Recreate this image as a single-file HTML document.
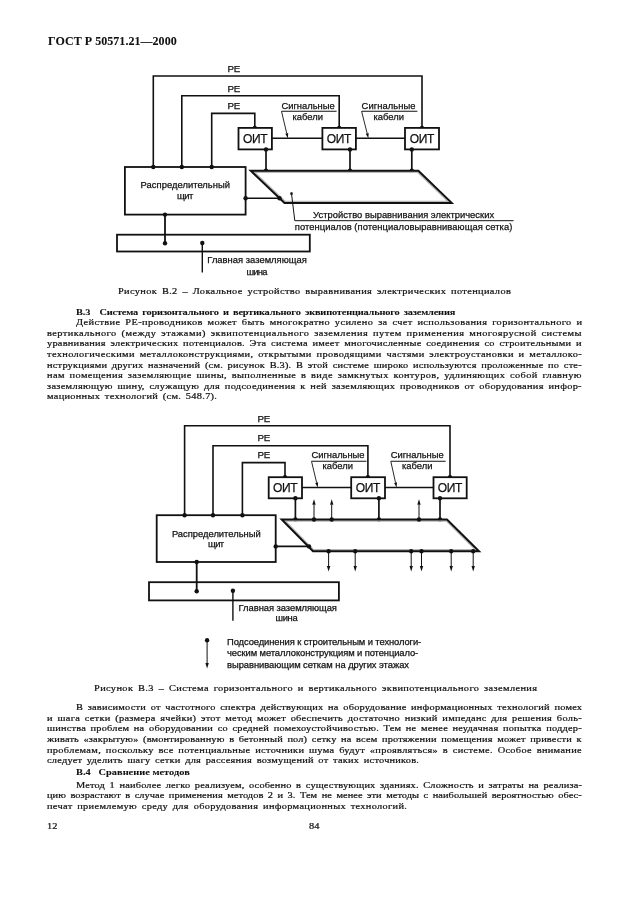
<!DOCTYPE html>
<html lang="ru"><head><meta charset="utf-8"><title>ГОСТ Р 50571.21—2000</title>
<style>
html,body{margin:0;padding:0;background:#fff;}
body{width:630px;height:913px;position:relative;overflow:hidden;font-family:"Liberation Serif",serif;color:#111;}
.t{position:absolute;white-space:pre;line-height:12px;height:12px;transform-origin:0 0;-webkit-text-stroke:0.22px #111;}
.b{font-weight:bold;-webkit-text-stroke:0.08px #111;}
svg{position:absolute;left:0;top:0;}
svg text{font-family:"Liberation Sans",sans-serif;fill:#111;stroke:#111;stroke-width:0.25px;}
#pg{position:absolute;left:0;top:0;width:630px;height:913px;will-change:transform;}
</style></head><body><div id="pg">
<div class="t b" style="left:48.10px;top:34.85px;font-size:12px;letter-spacing:0.041px;">ГОСТ Р 50571.21—2000</div>
<div class="t" style="left:118.30px;top:285.46px;font-size:9.0px;letter-spacing:0.307px;word-spacing:1.6px;transform:scaleX(1.15);">Рисунок В.2 – Локальное устройство выравнивания электрических потенциалов</div>
<div class="t b" style="left:76.20px;top:305.86px;font-size:9.0px;letter-spacing:-0.154px;word-spacing:1.6px;transform:scaleX(1.15);">В.3  Система горизонтального и вертикального эквипотенциального заземления</div>
<div class="t" style="left:75.70px;top:316.16px;font-size:9.0px;letter-spacing:0.333px;word-spacing:1.6px;transform:scaleX(1.15);">Действие РЕ-проводников может быть многократно усилено за счет использования горизонтального и</div>
<div class="t" style="left:47.10px;top:326.76px;font-size:9.0px;letter-spacing:0.388px;word-spacing:1.6px;transform:scaleX(1.15);">вертикального (между этажами) эквипотенциального заземления путем применения многоярусной системы</div>
<div class="t" style="left:47.10px;top:337.36px;font-size:9.0px;letter-spacing:0.217px;word-spacing:1.6px;transform:scaleX(1.15);">уравнивания электрических потенциалов. Эта система имеет многочисленные соединения со строительными и</div>
<div class="t" style="left:47.10px;top:347.96px;font-size:9.0px;letter-spacing:0.312px;word-spacing:1.6px;transform:scaleX(1.15);">технологическими металлоконструкциями, открытыми проводящими частями электроустановки и металлоко-</div>
<div class="t" style="left:47.10px;top:358.56px;font-size:9.0px;letter-spacing:0.172px;word-spacing:1.6px;transform:scaleX(1.15);">нструкциями других назначений (см. рисунок В.3). В этой системе широко используются проложенные по сте-</div>
<div class="t" style="left:47.10px;top:369.16px;font-size:9.0px;letter-spacing:0.327px;word-spacing:1.6px;transform:scaleX(1.15);">нам помещения заземляющие шины, выполненные в виде замкнутых контуров, удлиняющих собой главную</div>
<div class="t" style="left:47.10px;top:379.76px;font-size:9.0px;letter-spacing:0.261px;word-spacing:1.6px;transform:scaleX(1.15);">заземляющую шину, служащую для подсоединения к ней заземляющих проводников от оборудования инфор-</div>
<div class="t" style="left:47.10px;top:390.36px;font-size:9.0px;letter-spacing:0.250px;word-spacing:1.6px;transform:scaleX(1.15);">мационных технологий (см. 548.7).</div>
<div class="t" style="left:93.50px;top:681.96px;font-size:9.0px;letter-spacing:0.324px;word-spacing:1.6px;transform:scaleX(1.15);">Рисунок В.3 – Система горизонтального и вертикального эквипотенциального заземления</div>
<div class="t" style="left:75.70px;top:701.16px;font-size:9.0px;letter-spacing:0.186px;word-spacing:1.6px;transform:scaleX(1.15);">В зависимости от частотного спектра действующих на оборудование информационных технологий помех</div>
<div class="t" style="left:47.10px;top:711.76px;font-size:9.0px;letter-spacing:0.241px;word-spacing:1.6px;transform:scaleX(1.15);">и шага сетки (размера ячейки) этот метод может обеспечить достаточно низкий импеданс для решения боль-</div>
<div class="t" style="left:47.10px;top:722.36px;font-size:9.0px;letter-spacing:0.178px;word-spacing:1.6px;transform:scaleX(1.15);">шинства проблем на оборудовании со средней помехоустойчивостью. Тем не менее неудачная попытка поддер-</div>
<div class="t" style="left:47.10px;top:732.96px;font-size:9.0px;letter-spacing:0.133px;word-spacing:1.6px;transform:scaleX(1.15);">живать «закрытую» (вмонтированную в бетонный пол) сетку на всем протяжении помещения может привести к</div>
<div class="t" style="left:47.10px;top:743.56px;font-size:9.0px;letter-spacing:0.277px;word-spacing:1.6px;transform:scaleX(1.15);">проблемам, поскольку все потенциальные источники шума будут «проявляться» в системе. Особое внимание</div>
<div class="t" style="left:47.10px;top:754.16px;font-size:9.0px;letter-spacing:0.196px;word-spacing:1.6px;transform:scaleX(1.15);">следует уделить шагу сетки для рассеяния возмущений от таких источников.</div>
<div class="t b" style="left:76.20px;top:765.76px;font-size:9.0px;letter-spacing:0.020px;transform:scaleX(1.15);">В.4  Сравнение методов</div>
<div class="t" style="left:75.70px;top:778.56px;font-size:9.0px;letter-spacing:0.143px;word-spacing:1.6px;transform:scaleX(1.15);">Метод 1 наиболее легко реализуем, особенно в существующих зданиях. Сложность и затраты на реализа-</div>
<div class="t" style="left:47.10px;top:789.16px;font-size:9.0px;letter-spacing:0.047px;word-spacing:1.6px;transform:scaleX(1.15);">цию возрастают в случае применения методов 2 и 3. Тем не менее эти методы с наибольшей вероятностью обес-</div>
<div class="t" style="left:47.10px;top:799.76px;font-size:9.0px;letter-spacing:0.276px;word-spacing:1.6px;transform:scaleX(1.15);">печат приемлемую среду для оборудования информационных технологий.</div>
<div class="t" style="left:47.30px;top:819.86px;font-size:9.0px;letter-spacing:-0.043px;transform:scaleX(1.15);">12</div>
<div class="t" style="left:308.80px;top:819.86px;font-size:9.0px;letter-spacing:0.043px;transform:scaleX(1.15);">84</div>
<svg width="630" height="913" viewBox="0 0 630 913">
<path d="M153.3,167.0 V76.0 H422.0 V127.9" fill="none" stroke="#111" stroke-width="1.6" />
<circle cx="153.3" cy="167.0" r="2.2" fill="#111"/>
<circle cx="422.0" cy="127.9" r="2.2" fill="#111"/>
<path d="M181.8,167.0 V95.7 H339.2 V127.9" fill="none" stroke="#111" stroke-width="1.6" />
<circle cx="181.8" cy="167.0" r="2.2" fill="#111"/>
<circle cx="339.2" cy="127.9" r="2.2" fill="#111"/>
<path d="M211.7,167.0 V113.4 H254.8 V127.9" fill="none" stroke="#111" stroke-width="1.6" />
<circle cx="211.7" cy="167.0" r="2.2" fill="#111"/>
<circle cx="254.8" cy="127.9" r="2.2" fill="#111"/>
<text x="227.4" y="72.3" font-size="9.8" text-anchor="start" textLength="12.8" lengthAdjust="spacing">PE</text>
<text x="227.4" y="91.5" font-size="9.8" text-anchor="start" textLength="12.8" lengthAdjust="spacing">PE</text>
<text x="227.4" y="109.0" font-size="9.8" text-anchor="start" textLength="12.8" lengthAdjust="spacing">PE</text>
<rect x="238.5" y="127.9" width="33.39999999999998" height="21.5" fill="#fff" stroke="#111" stroke-width="1.8"/>
<text x="255.2" y="142.6" font-size="12" text-anchor="middle" textLength="24.6" lengthAdjust="spacing">ОИТ</text>
<rect x="322.4" y="127.9" width="33.5" height="21.5" fill="#fff" stroke="#111" stroke-width="1.8"/>
<text x="339.15" y="142.6" font-size="12" text-anchor="middle" textLength="24.6" lengthAdjust="spacing">ОИТ</text>
<rect x="405.0" y="127.9" width="34.0" height="21.5" fill="#fff" stroke="#111" stroke-width="1.8"/>
<text x="422.0" y="142.6" font-size="12" text-anchor="middle" textLength="24.6" lengthAdjust="spacing">ОИТ</text>
<path d="M271.9,138.3 H322.4 M355.9,138.3 H405.0" fill="none" stroke="#111" stroke-width="1.5" />
<path d="M266.0,149.4 V170.8" fill="none" stroke="#111" stroke-width="1.7" />
<circle cx="266.0" cy="149.4" r="2.2" fill="#111"/>
<circle cx="266.0" cy="170.8" r="2.2" fill="#111"/>
<path d="M350.0,149.4 V170.8" fill="none" stroke="#111" stroke-width="1.7" />
<circle cx="350.0" cy="149.4" r="2.2" fill="#111"/>
<circle cx="350.0" cy="170.8" r="2.2" fill="#111"/>
<path d="M411.8,149.4 V170.8" fill="none" stroke="#111" stroke-width="1.7" />
<circle cx="411.8" cy="149.4" r="2.2" fill="#111"/>
<circle cx="411.8" cy="170.8" r="2.2" fill="#111"/>
<clipPath id="g170"><path d="M250.8,170.8 H418.4 L451.7,202.9 H284.5 Z"/></clipPath>
<path d="M250.8,170.8 H418.4 L451.7,202.9 H284.5 Z" fill="none" stroke="#b8b8b8" stroke-width="4.4" clip-path="url(#g170)"/>
<path d="M250.8,170.8 H418.4 L451.7,202.9 H284.5 Z" fill="none" stroke="#111" stroke-width="2.0" stroke-linejoin="miter"/>
<text x="281.5" y="109.4" font-size="9.4" text-anchor="start" textLength="53.10000000000002" lengthAdjust="spacing">Сигнальные</text>
<text x="292.5" y="120.30000000000001" font-size="9.4" text-anchor="start" textLength="30.5" lengthAdjust="spacing">кабели</text>
<path d="M281.5,111.30000000000001 H336.6" fill="none" stroke="#111" stroke-width="1.1" />
<path d="M281.5,111.30000000000001 L286.75,133.43" stroke="#111" stroke-width="0.9" fill="none"/>
<path d="M287.9,138.3 L285.29,133.78 L288.21,133.09 Z" fill="#111"/>
<text x="361.6" y="109.4" font-size="9.4" text-anchor="start" textLength="53.799999999999955" lengthAdjust="spacing">Сигнальные</text>
<text x="373.5" y="120.30000000000001" font-size="9.4" text-anchor="start" textLength="30.5" lengthAdjust="spacing">кабели</text>
<path d="M361.6,111.30000000000001 H417.4" fill="none" stroke="#111" stroke-width="1.1" />
<path d="M361.6,111.30000000000001 L367.18,133.45" stroke="#111" stroke-width="0.9" fill="none"/>
<path d="M368.4,138.3 L365.72,133.82 L368.63,133.09 Z" fill="#111"/>
<rect x="124.9" y="167.0" width="120.69999999999999" height="47.599999999999994" fill="none" stroke="#111" stroke-width="1.8"/>
<text x="140.6" y="187.6" font-size="9.4" text-anchor="start" textLength="89.4" lengthAdjust="spacing">Распределительный</text>
<text x="177.0" y="198.6" font-size="9.4" text-anchor="start" textLength="16.400000000000006" lengthAdjust="spacing">щит</text>
<path d="M245.6,198.3 H279.5" fill="none" stroke="#111" stroke-width="1.6" />
<circle cx="245.6" cy="198.3" r="2.2" fill="#111"/>
<circle cx="279.5" cy="198.3" r="2.2" fill="#111"/>
<path d="M165.0,214.6 V243.3" fill="none" stroke="#111" stroke-width="1.8" />
<circle cx="165.0" cy="214.6" r="2.2" fill="#111"/>
<circle cx="165.0" cy="243.3" r="2.2" fill="#111"/>
<rect x="117.0" y="234.7" width="192.8" height="16.80000000000001" fill="none" stroke="#111" stroke-width="1.8"/>
<path d="M202.3,243.0 V272.6" fill="none" stroke="#111" stroke-width="1.4" />
<circle cx="202.3" cy="243.0" r="2.2" fill="#111"/>
<text x="207.3" y="263.4" font-size="9.4" text-anchor="start" textLength="99.5" lengthAdjust="spacing">Главная заземляющая</text>
<text x="246.4" y="274.6" font-size="9.4" text-anchor="start" textLength="20.99999999999997" lengthAdjust="spacing">шина</text>
<circle cx="291.5" cy="193.6" r="1.5" fill="#333"/>
<path d="M291.5,193.6 L294.8,220.7 H513.6" fill="none" stroke="#111" stroke-width="1.0" />
<text x="313.1" y="217.8" font-size="9.4" text-anchor="start" textLength="181.0" lengthAdjust="spacing">Устройство выравнивания электрических</text>
<text x="294.8" y="230.0" font-size="9.4" text-anchor="start" textLength="217.5" lengthAdjust="spacing">потенциалов (потенциаловыравнивающая сетка)</text>
<path d="M184.6,515.2 V425.8 H450.0 V477.2" fill="none" stroke="#111" stroke-width="1.6" />
<circle cx="184.6" cy="515.2" r="2.2" fill="#111"/>
<circle cx="450.0" cy="477.2" r="2.2" fill="#111"/>
<path d="M213.0,515.2 V445.7 H367.9 V477.2" fill="none" stroke="#111" stroke-width="1.6" />
<circle cx="213.0" cy="515.2" r="2.2" fill="#111"/>
<circle cx="367.9" cy="477.2" r="2.2" fill="#111"/>
<path d="M242.4,515.2 V462.6 H285.0 V477.2" fill="none" stroke="#111" stroke-width="1.6" />
<circle cx="242.4" cy="515.2" r="2.2" fill="#111"/>
<circle cx="285.0" cy="477.2" r="2.2" fill="#111"/>
<text x="257.5" y="422.0" font-size="9.8" text-anchor="start" textLength="12.8" lengthAdjust="spacing">PE</text>
<text x="257.5" y="440.8" font-size="9.8" text-anchor="start" textLength="12.8" lengthAdjust="spacing">PE</text>
<text x="257.5" y="457.8" font-size="9.8" text-anchor="start" textLength="12.8" lengthAdjust="spacing">PE</text>
<rect x="268.7" y="477.2" width="33.30000000000001" height="21.100000000000023" fill="#fff" stroke="#111" stroke-width="1.8"/>
<text x="285.35" y="491.7" font-size="12" text-anchor="middle" textLength="24.6" lengthAdjust="spacing">ОИТ</text>
<rect x="351.2" y="477.2" width="33.80000000000001" height="21.100000000000023" fill="#fff" stroke="#111" stroke-width="1.8"/>
<text x="368.1" y="491.7" font-size="12" text-anchor="middle" textLength="24.6" lengthAdjust="spacing">ОИТ</text>
<rect x="433.5" y="477.2" width="33.19999999999999" height="21.100000000000023" fill="#fff" stroke="#111" stroke-width="1.8"/>
<text x="450.1" y="491.7" font-size="12" text-anchor="middle" textLength="24.6" lengthAdjust="spacing">ОИТ</text>
<path d="M302.0,487.5 H351.2 M385.0,487.5 H433.5" fill="none" stroke="#111" stroke-width="1.5" />
<path d="M295.4,498.3 V519.5" fill="none" stroke="#111" stroke-width="1.7" />
<circle cx="295.4" cy="498.3" r="2.2" fill="#111"/>
<circle cx="295.4" cy="519.5" r="2.2" fill="#111"/>
<path d="M378.9,498.3 V519.5" fill="none" stroke="#111" stroke-width="1.7" />
<circle cx="378.9" cy="498.3" r="2.2" fill="#111"/>
<circle cx="378.9" cy="519.5" r="2.2" fill="#111"/>
<path d="M440.0,498.3 V519.5" fill="none" stroke="#111" stroke-width="1.7" />
<circle cx="440.0" cy="498.3" r="2.2" fill="#111"/>
<circle cx="440.0" cy="519.5" r="2.2" fill="#111"/>
<clipPath id="g519"><path d="M281.7,519.5 H447.0 L479.0,551.2 H313.0 Z"/></clipPath>
<path d="M281.7,519.5 H447.0 L479.0,551.2 H313.0 Z" fill="none" stroke="#b8b8b8" stroke-width="4.4" clip-path="url(#g519)"/>
<path d="M281.7,519.5 H447.0 L479.0,551.2 H313.0 Z" fill="none" stroke="#111" stroke-width="2.0" stroke-linejoin="miter"/>
<text x="311.5" y="458.0" font-size="9.4" text-anchor="start" textLength="53.0" lengthAdjust="spacing">Сигнальные</text>
<text x="322.5" y="469.1" font-size="9.4" text-anchor="start" textLength="30.5" lengthAdjust="spacing">кабели</text>
<path d="M311.5,461.3 H366.5" fill="none" stroke="#111" stroke-width="1.1" />
<path d="M311.5,461.3 L316.63,482.64" stroke="#111" stroke-width="0.9" fill="none"/>
<path d="M317.8,487.5 L315.17,482.99 L318.09,482.29 Z" fill="#111"/>
<text x="390.8" y="458.0" font-size="9.4" text-anchor="start" textLength="52.80000000000001" lengthAdjust="spacing">Сигнальные</text>
<text x="402.0" y="469.1" font-size="9.4" text-anchor="start" textLength="30.5" lengthAdjust="spacing">кабели</text>
<path d="M390.8,461.3 H445.6" fill="none" stroke="#111" stroke-width="1.1" />
<path d="M390.8,461.3 L395.52,482.62" stroke="#111" stroke-width="0.9" fill="none"/>
<path d="M396.6,487.5 L394.05,482.94 L396.98,482.29 Z" fill="#111"/>
<rect x="156.7" y="515.2" width="119.0" height="46.799999999999955" fill="none" stroke="#111" stroke-width="1.8"/>
<text x="171.9" y="537.0" font-size="9.4" text-anchor="start" textLength="88.79999999999998" lengthAdjust="spacing">Распределительный</text>
<text x="208.1" y="547.0" font-size="9.4" text-anchor="start" textLength="16.0" lengthAdjust="spacing">щит</text>
<path d="M275.7,546.4 H309.0" fill="none" stroke="#111" stroke-width="1.6" />
<circle cx="275.7" cy="546.4" r="2.2" fill="#111"/>
<circle cx="309.0" cy="546.4" r="2.2" fill="#111"/>
<path d="M196.7,562.0 V591.2" fill="none" stroke="#111" stroke-width="1.8" />
<circle cx="196.7" cy="562.0" r="2.2" fill="#111"/>
<circle cx="196.7" cy="591.2" r="2.2" fill="#111"/>
<rect x="149.0" y="582.2" width="189.89999999999998" height="18.199999999999932" fill="none" stroke="#111" stroke-width="1.8"/>
<path d="M232.9,590.8 V620.8" fill="none" stroke="#111" stroke-width="1.4" />
<circle cx="232.9" cy="590.8" r="2.2" fill="#111"/>
<text x="238.6" y="611.2" font-size="9.4" text-anchor="start" textLength="98.29999999999998" lengthAdjust="spacing">Главная заземляющая</text>
<text x="275.5" y="621.1" font-size="9.4" text-anchor="start" textLength="22.100000000000023" lengthAdjust="spacing">шина</text>
<circle cx="314.0" cy="519.5" r="2.2" fill="#111"/>
<path d="M314.0,519.5 L314.00,504.80" stroke="#111" stroke-width="1.0" fill="none"/>
<path d="M314.0,499.3 L315.70,504.80 L312.30,504.80 Z" fill="#111"/>
<circle cx="331.7" cy="519.5" r="2.2" fill="#111"/>
<path d="M331.7,519.5 L331.70,504.80" stroke="#111" stroke-width="1.0" fill="none"/>
<path d="M331.7,499.3 L333.40,504.80 L330.00,504.80 Z" fill="#111"/>
<circle cx="419.0" cy="519.5" r="2.2" fill="#111"/>
<path d="M419.0,519.5 L419.00,504.80" stroke="#111" stroke-width="1.0" fill="none"/>
<path d="M419.0,499.3 L420.70,504.80 L417.30,504.80 Z" fill="#111"/>
<circle cx="328.6" cy="551.2" r="2.2" fill="#111"/>
<path d="M328.6,551.2 L328.60,566.10" stroke="#111" stroke-width="1.0" fill="none"/>
<path d="M328.6,571.6 L326.90,566.10 L330.30,566.10 Z" fill="#111"/>
<circle cx="355.2" cy="551.2" r="2.2" fill="#111"/>
<path d="M355.2,551.2 L355.20,566.10" stroke="#111" stroke-width="1.0" fill="none"/>
<path d="M355.2,571.6 L353.50,566.10 L356.90,566.10 Z" fill="#111"/>
<circle cx="411.2" cy="551.2" r="2.2" fill="#111"/>
<path d="M411.2,551.2 L411.20,566.10" stroke="#111" stroke-width="1.0" fill="none"/>
<path d="M411.2,571.6 L409.50,566.10 L412.90,566.10 Z" fill="#111"/>
<circle cx="421.5" cy="551.2" r="2.2" fill="#111"/>
<path d="M421.5,551.2 L421.50,566.10" stroke="#111" stroke-width="1.0" fill="none"/>
<path d="M421.5,571.6 L419.80,566.10 L423.20,566.10 Z" fill="#111"/>
<circle cx="451.2" cy="551.2" r="2.2" fill="#111"/>
<path d="M451.2,551.2 L451.20,566.10" stroke="#111" stroke-width="1.0" fill="none"/>
<path d="M451.2,571.6 L449.50,566.10 L452.90,566.10 Z" fill="#111"/>
<circle cx="473.2" cy="551.2" r="2.2" fill="#111"/>
<path d="M473.2,551.2 L473.20,566.10" stroke="#111" stroke-width="1.0" fill="none"/>
<path d="M473.2,571.6 L471.50,566.10 L474.90,566.10 Z" fill="#111"/>
<circle cx="207.1" cy="640.3" r="2.2" fill="#111"/>
<path d="M207.1,640.3 L207.10,663.10" stroke="#111" stroke-width="1.0" fill="none"/>
<path d="M207.1,668.6 L205.40,663.10 L208.80,663.10 Z" fill="#111"/>
<text x="227.0" y="644.7" font-size="9.4" text-anchor="start" textLength="194.2" lengthAdjust="spacing">Подсоединения к строительным и технологи-</text>
<text x="227.0" y="656.3" font-size="9.4" text-anchor="start" textLength="191.2" lengthAdjust="spacing">ческим металлоконструкциям и потенциало-</text>
<text x="227.0" y="667.7" font-size="9.4" text-anchor="start" textLength="182.0" lengthAdjust="spacing">выравнивающим сеткам на других этажах</text>
</svg>
</div></body></html>
